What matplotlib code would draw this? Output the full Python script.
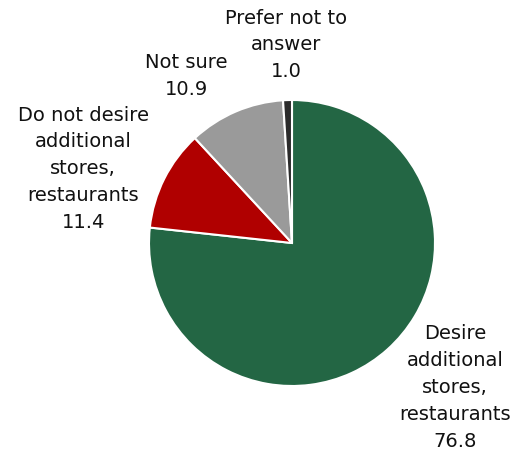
import matplotlib.pyplot as plt

labels = ["Desire\nadditional\nstores,\nrestaurants", "Do not desire\nadditional\nstores,\nrestaurants",
          "Not sure", "Prefer not to\nanswer"]
values = [76.8, 11.4, 10.9, 1.0]
colors = ["#236644", "#b00000", "#9a9a9a", "#2b2b2b"]

# where each label sits, in units of the pie radius
label_pos = [(1.14, -1.01), (-1.46, 0.52), (-0.74, 1.17), (-0.04, 1.385)]

fig = plt.figure(figsize=(5.16, 4.57), dpi=100)
ax = fig.add_axes([0, 0, 1, 1])

ax.pie(values, colors=colors, startangle=90, counterclock=False, radius=1,
       wedgeprops=dict(edgecolor="white", linewidth=1.5))

for lab, v, (x, y) in zip(labels, values, label_pos):
    ax.text(x, y, f"{lab}\n{v:.1f}", ha="center", va="center",
            fontsize=14, linespacing=1.52, color="#111111")

ax.set_xlim(-292 / 143, (516 - 292) / 143)
ax.set_ylim(-(457 - 243) / 143, 243 / 143)
ax.set_aspect("equal")
ax.axis("off")

fig.savefig("out.png", dpi=100)
